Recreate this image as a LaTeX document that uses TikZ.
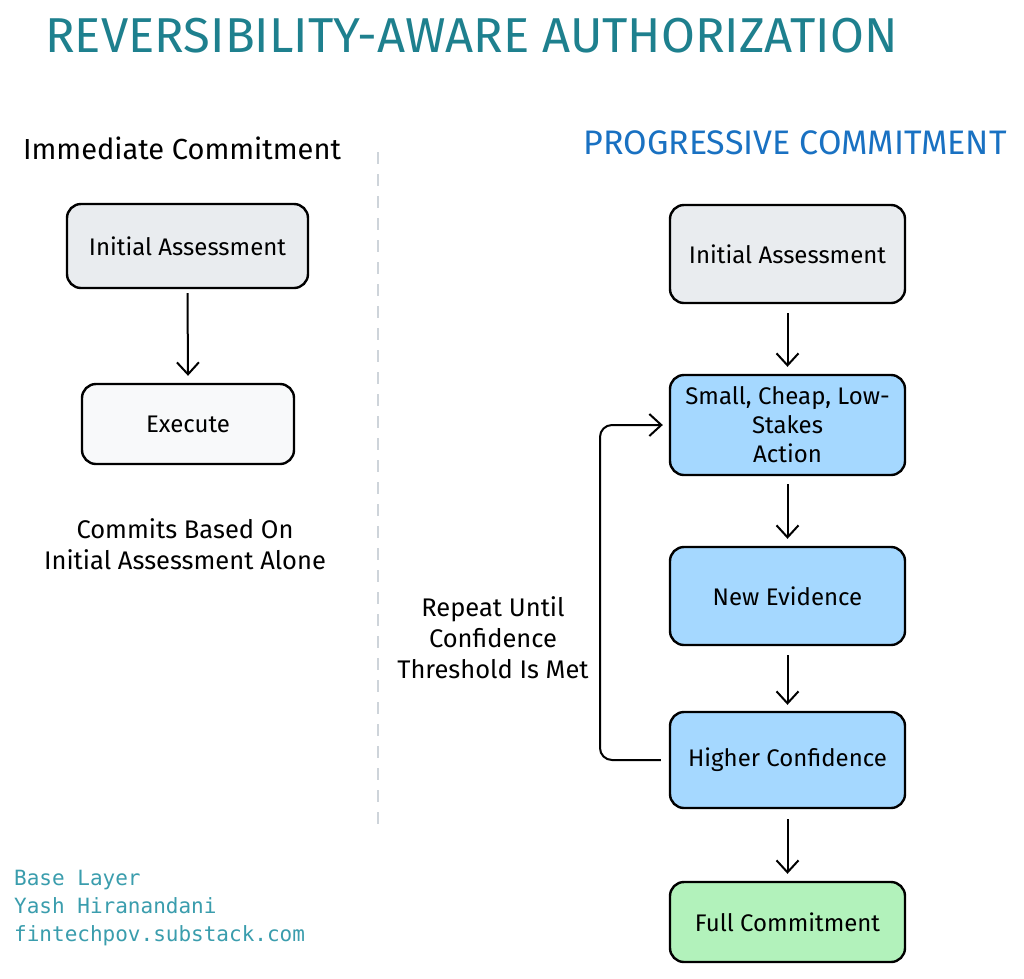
\documentclass[tikz,border=0pt]{standalone}
\usepackage{fontspec}
\setmainfont{Fira Sans}
\newfontfamily\monofont{DejaVu Sans Mono}
\usetikzlibrary{arrows.meta}
\definecolor{titleteal}{HTML}{1E808E}
\definecolor{progblue}{HTML}{1971C2}
\definecolor{greyfill}{HTML}{E9ECEF}
\definecolor{lightfill}{HTML}{F8F9FA}
\definecolor{bluefill}{HTML}{A5D8FF}
\definecolor{greenfill}{HTML}{B2F2BB}
\definecolor{footteal}{HTML}{3A9DAD}
\definecolor{dashgrey}{HTML}{CED4DA}
\tikzset{
  boxnode/.style={draw=black, line width=2.4pt, rounded corners=14pt, align=center,
    font=\fontsize{24}{29}\selectfont, inner sep=0pt},
  flowarrow/.style={draw=black, line width=2pt, -{Straight Barb[length=12pt,width=22pt,line width=2pt]}},
  plaintext/.style={align=center, font=\fontsize{25.5}{31}\selectfont},
}
\begin{document}
\begin{tikzpicture}[x=1pt,y=-1pt]
\useasboundingbox (0,0) rectangle (1024,978);
\fill[white] (0,0) rectangle (1024,978);

\node[text=titleteal, font=\fontsize{49}{49}\selectfont, anchor=west, inner sep=0pt] (title) at (45,36) {REVERSIBILITY-AWARE AUTHORIZATION};

\node[font=\fontsize{29}{29}\selectfont] (lefthead) at (182,148) {Immediate Commitment};
\node[text=progblue, font=\fontsize{34}{34}\selectfont] (righthead) at (795,143) {PROGRESSIVE COMMITMENT};

\coordinate (dtop) at (378,152);
\coordinate (dbot) at (378,830);
\draw[dashgrey, line width=2.5pt, dash pattern=on 12pt off 10pt] (dtop) -- (dbot);

% left column
\node[boxnode, fill=greyfill, minimum width=241pt, minimum height=84pt] (lassess) at (187.5,246) {Initial Assessment};
\node[boxnode, fill=lightfill, minimum width=212pt, minimum height=80pt] (lexec) at (188,424) {Execute};
\draw[flowarrow] ([yshift=-4pt]lassess.south) -- ([yshift=7pt]lexec.north);
\node[plaintext] (lnote) at (185,544) {Commits Based On\\Initial Assessment Alone};

% right column
\node[boxnode, fill=greyfill, minimum width=235pt, minimum height=98pt] (rassess) at (787.5,254) {Initial Assessment};
\node[boxnode, fill=bluefill, minimum width=235pt, minimum height=100pt] (small) at (787.5,425) {Small, Cheap, Low-\\Stakes\\Action};
\node[boxnode, fill=bluefill, minimum width=235pt, minimum height=98pt] (newev) at (787.5,596) {New Evidence};
\node[boxnode, fill=bluefill, minimum width=235pt, minimum height=96pt] (higher) at (787.5,760) {Higher Confidence};
\node[boxnode, fill=greenfill, minimum width=235pt, minimum height=80pt] (full) at (787.5,922) {Full Commitment};

\draw[flowarrow] ([yshift=-9pt]rassess.south) -- ([yshift=7pt]small.north);
\draw[flowarrow] ([yshift=-8pt]small.south) -- ([yshift=7pt]newev.north);
\draw[flowarrow] ([yshift=-9pt]newev.south) -- ([yshift=6pt]higher.north);
\draw[flowarrow] ([yshift=-10pt]higher.south) -- ([yshift=7pt]full.north);

\coordinate (loopleft) at (600,0);
\draw[flowarrow, rounded corners=12pt] ([xshift=-8pt]higher.west) -- (loopleft |- higher.west) -- (loopleft |- small.west) -- ([xshift=-6pt]small.west);
\node[plaintext] (loopnote) at (493,638) {Repeat Until\\Confidence\\Threshold Is Met};

% footer
\node[text=footteal, font=\monofont\fontsize{21}{28}\selectfont, anchor=north west, align=left, inner sep=0pt] (footer) at (14,870) {Base Layer\\Yash Hiranandani\\fintechpov.substack.com};
\end{tikzpicture}
\end{document}
